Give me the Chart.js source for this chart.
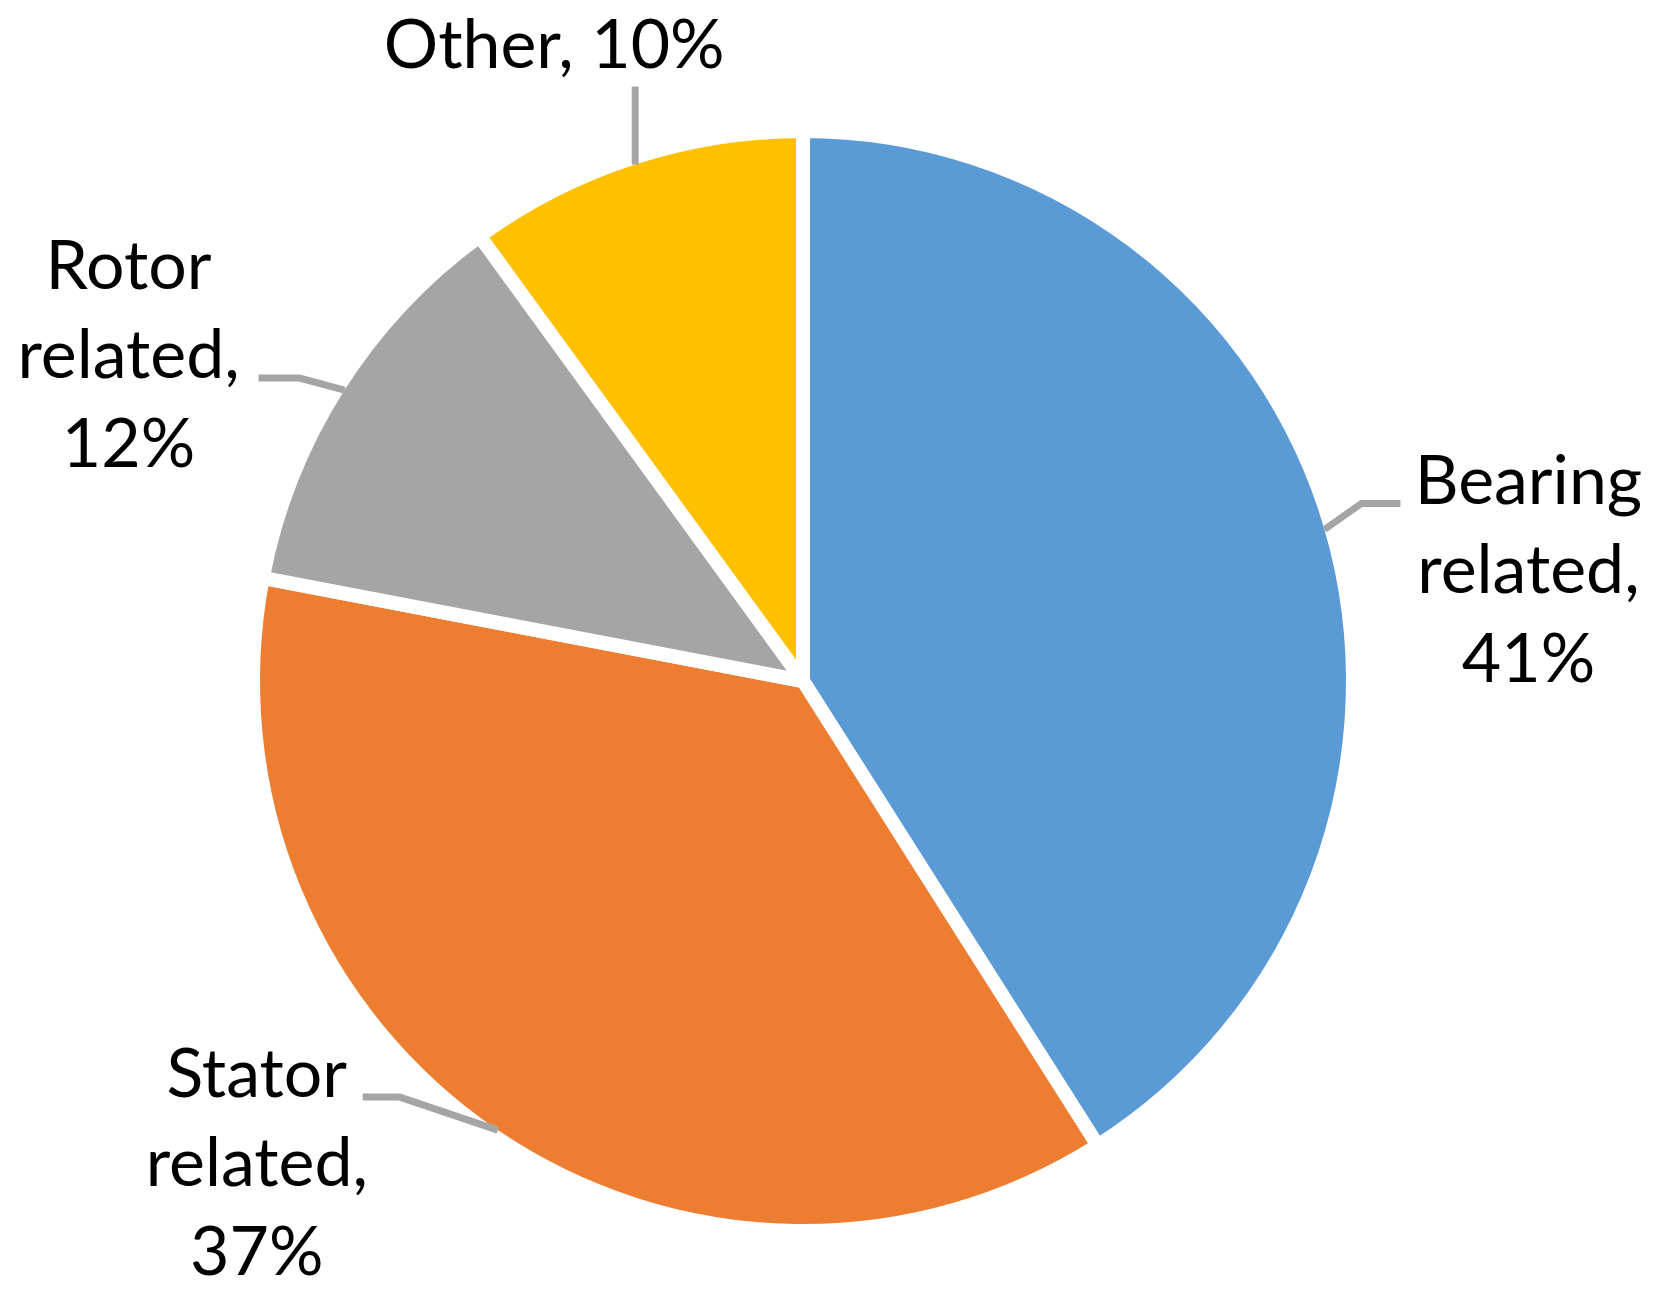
<!DOCTYPE html>
<html>
<head>
<meta charset="utf-8">
<script src="https://cdn.jsdelivr.net/npm/chart.js@4.4.1/dist/chart.umd.min.js"></script>
<style>
  html, body { margin: 0; padding: 0; background: #ffffff; }
  #wrap { width: 1664px; height: 1304px; }
</style>
</head>
<body>
<div id="wrap"><canvas id="myChart" width="1664" height="1304"></canvas></div>
<script>
const categories = ['Bearing related', 'Stator related', 'Rotor related', 'Other'];
const shares = [41, 37, 12, 10];
const sliceColors = ['#5B9BD5', '#ED7D31', '#A5A5A5', '#FFC000'];

// where each data label sits, relative to the point where its leader meets the slice edge
const labelLayout = [
    { wrap: true,  leader: [[37, -26], [76, -26]],   textX: 204,  baseline: -26 },
    { wrap: true,  leader: [[-98, -33], [-135, -33]], textX: -241, baseline: -33 },
    { wrap: true,  leader: [[-45, -12], [-86, -12]],  textX: -216, baseline: -101 },
    { wrap: false, leader: [[0, -78]],                textX: -81,  baseline: -97 }
];

const BORDER = 14;
const LINE_HEIGHT = 89;

function labelLines(i) {
    const text = categories[i] + ', ' + shares[i] + '%';
    return labelLayout[i].wrap ? text.split(' ') : [text];
}

const pieLabels = {
    id: 'pieLabels',
    afterDatasetsDraw(chart) {
        const ctx = chart.ctx;
        const meta = chart.getDatasetMeta(0);
        ctx.save();
        meta.data.forEach((arc, i) => {
            const p = arc.getProps(['x', 'y', 'startAngle', 'endAngle', 'outerRadius'], true);
            const mid = (p.startAngle + p.endAngle) / 2;
            const r = p.outerRadius - BORDER / 2;
            const ex = p.x + Math.cos(mid) * r;
            const ey = p.y + Math.sin(mid) * r;
            const lay = labelLayout[i];

            // leader line
            ctx.strokeStyle = '#A5A5A5';
            ctx.lineWidth = 7;
            ctx.lineCap = 'butt';
            ctx.lineJoin = 'miter';
            ctx.beginPath();
            ctx.moveTo(ex, ey);
            lay.leader.forEach(pt => ctx.lineTo(ex + pt[0], ey + pt[1]));
            ctx.stroke();

            // label text
            ctx.fillStyle = '#000000';
            ctx.font = '68px Lato';
            ctx.textAlign = 'center';
            ctx.textBaseline = 'alphabetic';
            labelLines(i).forEach((line, k) => {
                ctx.fillText(line, ex + lay.textX, ey + lay.baseline + k * LINE_HEIGHT);
            });
        });
        ctx.restore();
    }
};

const ctx = document.getElementById('myChart').getContext('2d');
const myChart = new Chart(ctx, {
    type: 'pie',
    data: {
        labels: categories,
        datasets: [{
            data: shares,
            backgroundColor: sliceColors,
            borderColor: '#ffffff',
            borderWidth: BORDER,
        }]
    },
    options: {
        responsive: false,
        animation: false,
        radius: 550,
        layout: {
            padding: { left: 253, right: 311, top: 131, bottom: 73 }
        },
        plugins: {
            legend: { display: false },
            tooltip: { enabled: false },
            title: { display: false }
        }
    },
    plugins: [pieLabels],
});
</script>
</body>
</html>
